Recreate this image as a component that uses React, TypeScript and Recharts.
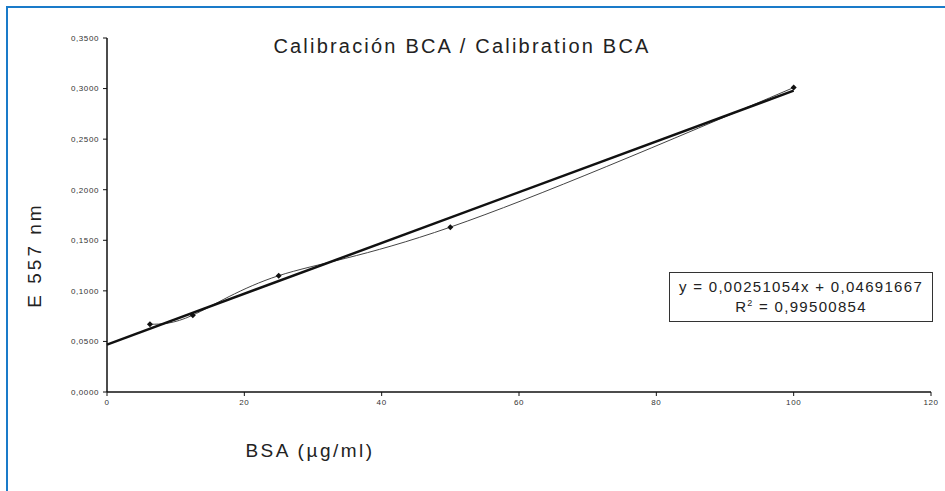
import React from 'react';
import { ComposedChart, Line, XAxis, YAxis } from 'recharts';

const concentrations = [6.25, 12.5, 25, 50, 100];
const absorbances = [0.067, 0.076, 0.115, 0.163, 0.301];
const trendX = [0, 100];
const trendY = [0.0469, 0.298];
const xTicks = [0, 20, 40, 60, 80, 100, 120];
const yTicks = [0, 0.05, 0.1, 0.15, 0.2, 0.25, 0.3, 0.35];

const measured = concentrations.map((x, i) => ({ x, y: absorbances[i] }));
const trend = trendX.map((x, i) => ({ x, y: trendY[i] }));

const font = '"Liberation Sans", Arial, Helvetica, sans-serif';

const Diamond = (props: any) => {
  const { cx, cy } = props;
  if (cx == null || cy == null) return null;
  const r = 3;
  return (
    <polygon
      key={`d-${cx}`}
      points={`${cx},${cy - r} ${cx + r},${cy} ${cx},${cy + r} ${cx - r},${cy}`}
      fill="#111"
    />
  );
};

const fmtY = (v: number) => v.toFixed(4).replace('.', ',');

const tickStyle = { fill: '#333', fontSize: 8, fontFamily: font, letterSpacing: 0.6 };

const App: React.FC = () => (
  <div style={{ position: 'absolute', left: 0, top: 0, width: 945, height: 491, background: '#fff', fontFamily: font }}>
    <div style={{ position: 'absolute', left: 6, top: 6, right: 0, height: 2, background: '#1a7bc9' }} />
    <div style={{ position: 'absolute', left: 6, top: 6, bottom: 0, width: 2, background: '#1a7bc9' }} />

    <ComposedChart
      width={945}
      height={491}
      margin={{ top: 38, right: 14, left: 0, bottom: 0 }}
      style={{ position: 'absolute', left: 0, top: 0 }}
    >
      <XAxis
        type="number"
        dataKey="x"
        domain={[0, 120]}
        ticks={xTicks}
        height={99}
        tick={tickStyle}
        tickSize={4}
        tickMargin={3}
        axisLine={{ stroke: '#111', strokeWidth: 1.5 }}
        tickLine={{ stroke: '#111' }}
      />
      <YAxis
        type="number"
        dataKey="y"
        domain={[0, 0.35]}
        ticks={yTicks}
        width={107}
        tickFormatter={fmtY}
        tick={tickStyle}
        tickSize={4}
        tickMargin={4}
        axisLine={{ stroke: '#111', strokeWidth: 1.5 }}
        tickLine={{ stroke: '#111' }}
      />
      <Line
        data={measured}
        dataKey="y"
        type="natural"
        stroke="#444"
        strokeWidth={1}
        dot={<Diamond />}
        activeDot={false}
        isAnimationActive={false}
      />
      <Line
        data={trend}
        dataKey="y"
        type="linear"
        stroke="#111"
        strokeWidth={2.5}
        dot={false}
        activeDot={false}
        isAnimationActive={false}
      />
    </ComposedChart>

    <div
      style={{
        position: 'absolute', left: 212, top: 35, width: 500, textAlign: 'center', fontSize: 20,
        letterSpacing: 2.2, color: '#222', whiteSpace: 'nowrap',
      }}
    >
      Calibración BCA / Calibration BCA
    </div>
    <div
      style={{
        position: 'absolute', left: 35, top: 255, transform: 'translate(-50%, -50%) rotate(-90deg)',
        fontSize: 19, letterSpacing: 3, color: '#222', whiteSpace: 'nowrap',
      }}
    >
      E 557 nm
    </div>
    <div
      style={{
        position: 'absolute', left: 210, top: 440, width: 200, textAlign: 'center', fontSize: 19,
        letterSpacing: 2.5, color: '#222', whiteSpace: 'nowrap',
      }}
    >
      BSA (µg/ml)
    </div>
    <div
      style={{
        position: 'absolute', left: 669, top: 272, width: 264, height: 50, border: '1px solid #333',
        boxSizing: 'border-box', background: '#fff', textAlign: 'center', fontSize: 15, letterSpacing: 1.3,
        color: '#222', lineHeight: '20px', paddingTop: 4, whiteSpace: 'nowrap',
      }}
    >
      <div>y = 0,00251054x + 0,04691667</div>
      <div>R<sup style={{ fontSize: 9, verticalAlign: 'top', lineHeight: '12px' }}>2</sup> = 0,99500854</div>
    </div>
  </div>
);

export default App;
